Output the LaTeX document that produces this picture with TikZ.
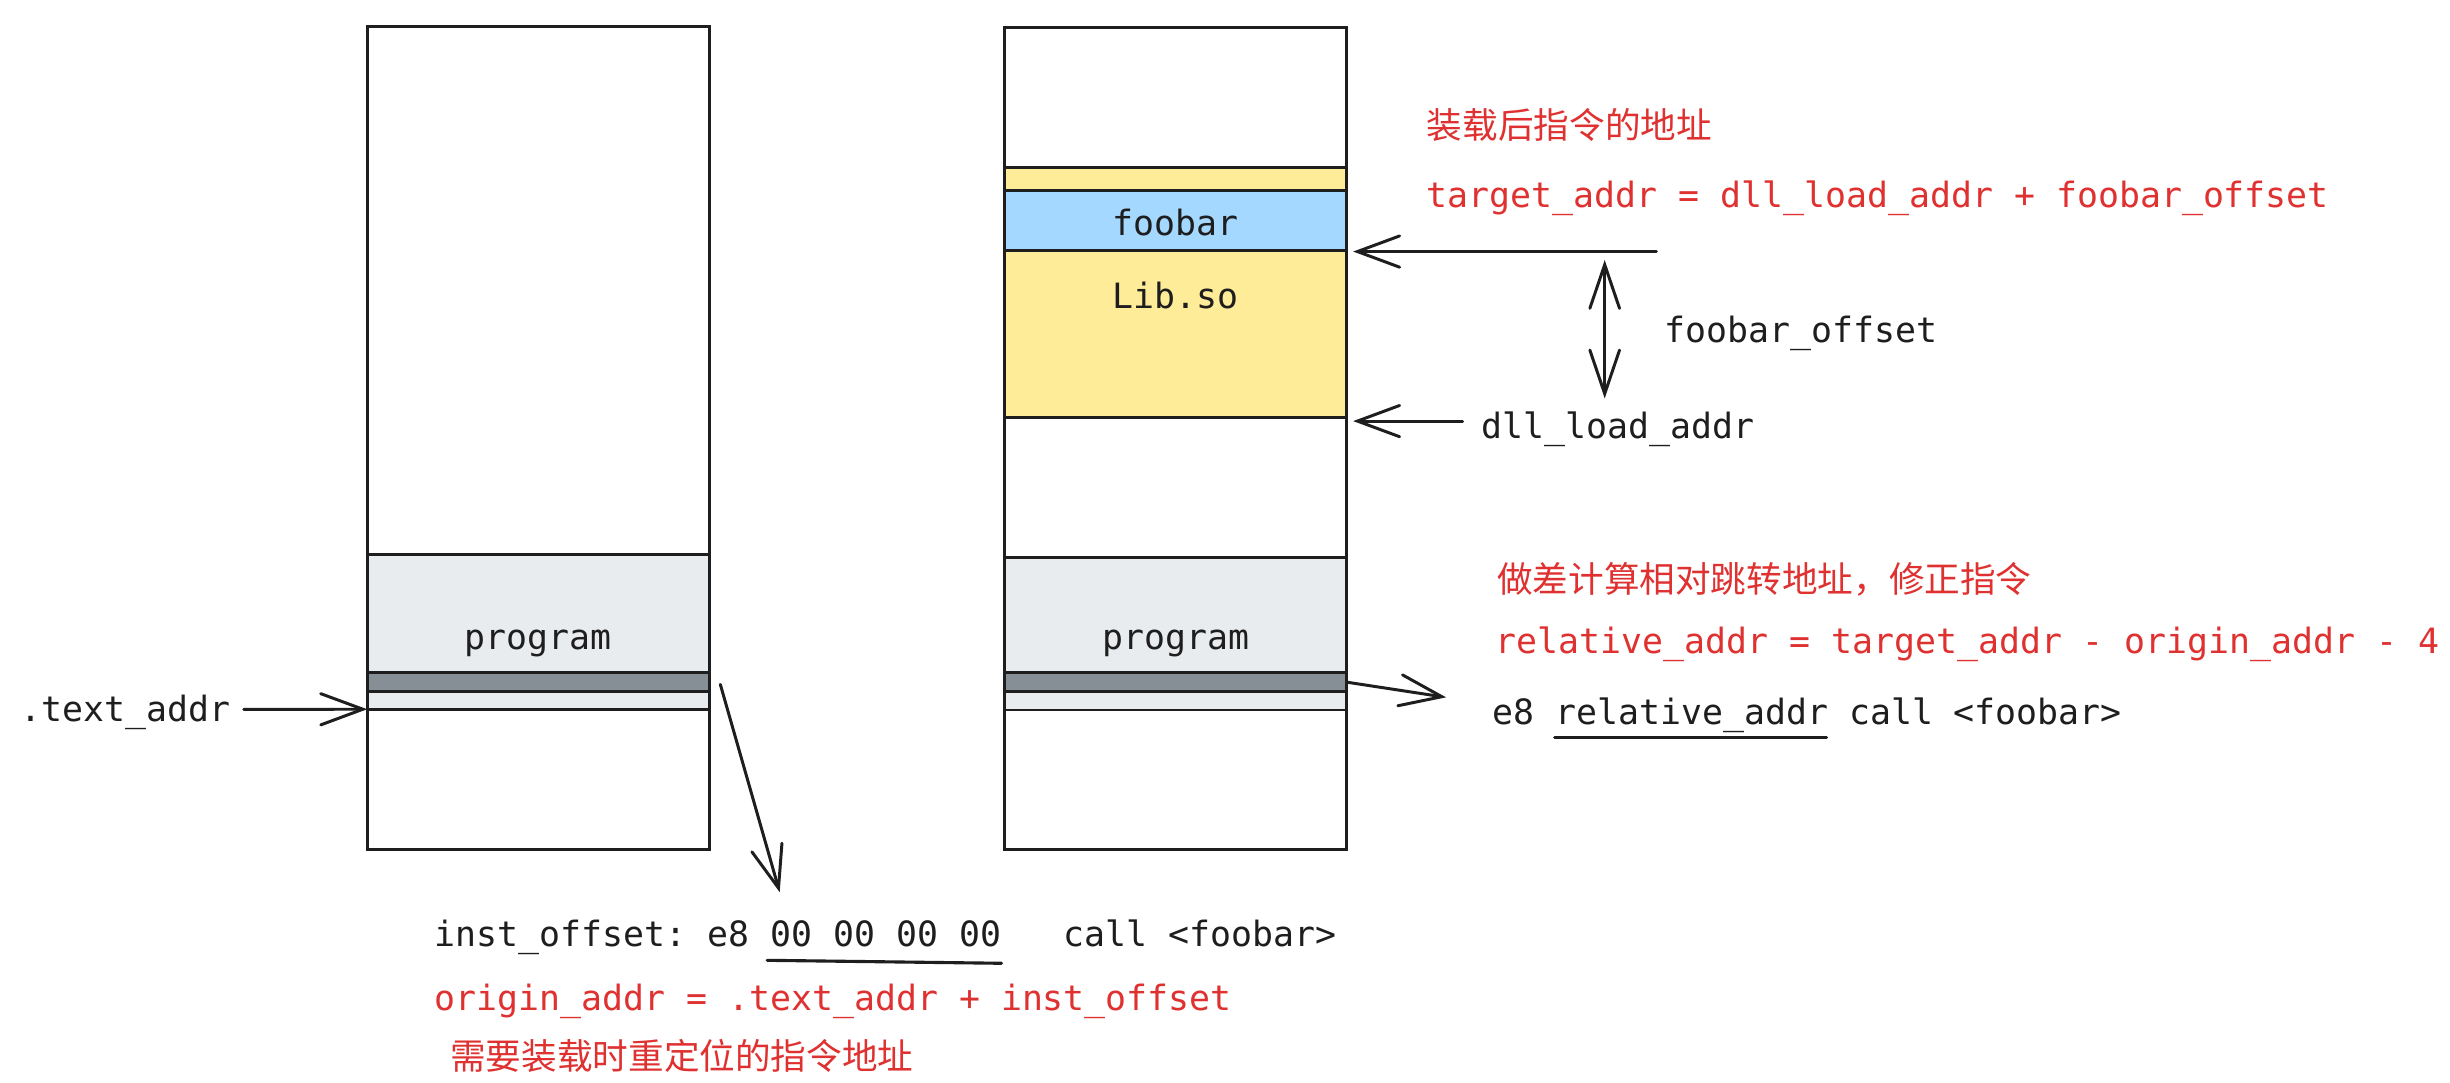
\documentclass[tikz,border=0pt]{standalone}
\usepackage{fontspec}
\usetikzlibrary{arrows.meta}
\newfontfamily\monofont{DejaVu Sans Mono}
\newfontfamily\cjkfont{Noto Sans CJK SC}
\definecolor{ink}{HTML}{1E1E1E}
\definecolor{redc}{HTML}{E03131}
\definecolor{lgray}{HTML}{E9ECEF}
\definecolor{dgray}{HTML}{868E96}
\definecolor{yel}{HTML}{FFEC99}
\definecolor{blu}{HTML}{A5D8FF}
\frenchspacing
\tikzset{
  seg/.style={draw=ink, line width=1.9pt, inner sep=0pt, outer sep=0pt, anchor=north west, minimum width=219pt},
  mono/.style={font=\monofont\fontsize{22.3}{26}\selectfont\frenchspacing, text=ink, inner sep=0pt, text height=18.5pt, text depth=3.5pt},
  redmono/.style={mono, text=redc},
  cjk/.style={font=\cjkfont\fontsize{22.8}{26}\selectfont, text=redc, inner sep=0pt, text height=20pt, text depth=3pt},
  arr/.style={draw=ink, line width=1.9pt, line cap=round, -{Straight Barb[length=27pt,width=20pt,line cap=round]}},
  darr/.style={draw=ink, line width=1.9pt, line cap=round, {Straight Barb[length=28pt,width=19pt,line cap=round]}-{Straight Barb[length=28pt,width=19pt,line cap=round]}},
  uline/.style={draw=ink, line width=2pt, line cap=round}
}
\begin{document}
\begin{tikzpicture}[x=1pt,y=-1pt]
\useasboundingbox[fill=white] (0,0) rectangle (1568,692.5);

% ---------- left column ----------
\node[seg, fill=white, minimum height=338pt] (Ltop) at (235,17) {};
\node[seg, fill=lgray, minimum height=75.7pt] (Lprog) at (235,355) {};
\node[seg, fill=dgray, minimum height=12pt] (Ldark) at (235,430.7) {};
\node[seg, fill=lgray, minimum height=11.2pt] (Llight) at (235,442.7) {};
\node[seg, fill=white, minimum height=89.5pt] (Lbot) at (235,453.9) {};
\node[mono] (Lprogt) at (344.5,408) {program};

% ---------- right column ----------
\node[seg, fill=white, minimum height=89.6pt] (Rtop) at (643,17.7) {};
\node[seg, fill=yel, minimum height=14.9pt] (Ryel) at (643,107.3) {};
\node[seg, fill=blu, minimum height=38.2pt] (Rfoo) at (643,122.2) {};
\node[seg, fill=yel, minimum height=106.9pt] (Rlib) at (643,160.4) {};
\node[seg, fill=white, minimum height=89.4pt] (Rw) at (643,267.3) {};
\node[seg, fill=lgray, minimum height=73.8pt] (Rprog) at (643,356.7) {};
\node[seg, fill=dgray, minimum height=12.2pt] (Rdark) at (643,430.5) {};
\node[seg, fill=lgray, minimum height=11.7pt] (Rlight) at (643,442.7) {};
\node[seg, fill=white, minimum height=89pt] (Rbot) at (643,454.4) {};
\node[mono] (Rfoot) at (752.5,143) {foobar};
\node[mono] (Rlibt) at (752.5,190) {Lib.so};
\node[mono] (Rprogt) at (752.5,408) {program};

% ---------- texts ----------
\node[mono, anchor=west] (textaddr) at (13,454) {.text\_addr};
\node[cjk, anchor=west] (cn1) at (913,80) {装载后指令的地址};
\node[redmono, anchor=west] (target) at (913,125) {target\_addr = dll\_load\_addr + foobar\_offset};
\node[mono, anchor=west] (foooff) at (1065,212) {foobar\_offset};
\node[mono, anchor=west] (dll) at (948,273) {dll\_load\_addr};
\node[cjk, anchor=west] (cn2) at (958,371) {做差计算相对跳转地址，修正指令};
\node[redmono, anchor=west] (rel) at (957,411) {relative\_addr = target\_addr - origin\_addr - 4};
\node[mono, anchor=west] (e8) at (955,456) {e8 relative\_addr call <foobar>};
\node[mono, anchor=west] (inst) at (278,598) {inst\_offset: e8 00 00 00 00\ \ \ call <foobar>};
\node[redmono, anchor=west] (origin) at (278,639) {origin\_addr = .text\_addr + inst\_offset};
\node[cjk, anchor=west] (cn3) at (288,676) {需要装载时重定位的指令地址};

% underlines
\draw[uline] (995,472) -- (1169,472);
\draw[uline] (491,614.6) -- (641,616.5);

% ---------- connectors ----------
\coordinate (taS) at (156,454);
\draw[arr] (taS) -- (Llight.south west);

\coordinate (ldS) at (461,438);
\coordinate (ldE) at (499,571);
\draw[arr] (ldS) -- (ldE);

\coordinate (fS) at (1060,161);
\draw[arr, shorten >=4pt] (fS) -- (Rfoo.south east |- fS);

\coordinate (dS) at (1027,166.4);
\coordinate (dE) at (1027,255);
\draw[darr] (dS) -- (dE);

\coordinate (dlS) at (936,269.5);
\draw[arr, shorten >=4pt] (dlS) -- (Rlib.south east |- dlS);

\coordinate (rE) at (925.5,446.3);
\draw[arr] (Rdark.east) -- (rE);
\end{tikzpicture}
\end{document}
